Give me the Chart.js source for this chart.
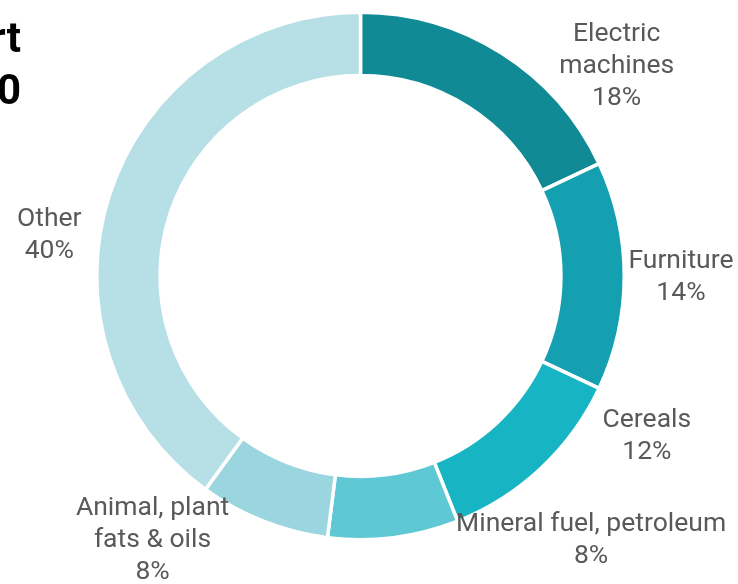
<!DOCTYPE html>
<html>
<head>
<meta charset="utf-8">
<script src="https://cdn.jsdelivr.net/npm/chart.js@4"></script>
<style>
    html, body { margin: 0; padding: 0; background: #fff; overflow: hidden; }
    #wrap { position: relative; width: 738px; height: 584px; }
    #title {
        position: absolute; right: 717px; top: 12px; white-space: nowrap;
        text-align: right; font: bold 42px Roboto, sans-serif; line-height: 52px; color: #000;
    }
</style>
</head>
<body>
<div id="wrap">
    <canvas id="pieChart" width="738" height="584"></canvas>
    <div id="title">Structure of export<br>in 2020</div>
</div>
<script>
const categories = ['Electric\nmachines', 'Furniture', 'Cereals', 'Mineral fuel, petroleum', 'Animal, plant\nfats & oils', 'Other'];
const shares = [18, 14, 12, 8, 8, 40];
const colors = ['#108b96', '#14a0b0', '#17b5c4', '#5ec8d5', '#9bd5df', '#b6dfe6'];

// label placement: angle from top (deg) and distance as share of outer radius
const labelAngle = [50.7, 90.2, 119.3, 138.9, 218.2, 277.4];
const labelDist = [1.255, 1.215, 1.245, 1.33, 1.275, 1.19];

const outerLabels = {
    id: 'outerLabels',
    afterDraw(chart) {
        const ctx = chart.ctx;
        const arcs = chart.getDatasetMeta(0).data;
        ctx.save();
        ctx.font = '26.5px Roboto';
        ctx.fillStyle = '#595959';
        ctx.textAlign = 'center';
        ctx.textBaseline = 'middle';
        arcs.forEach((arc, i) => {
            const a = labelAngle[i] * Math.PI / 180;
            const r = arc.outerRadius * labelDist[i];
            const cx = arc.x + Math.sin(a) * r;
            const cy = arc.y - Math.cos(a) * r;
            const lines = chart.data.labels[i].split('\n');
            lines.push(chart.data.datasets[0].data[i] + '%');
            const lh = 32;
            const top = cy - (lines.length - 1) * lh / 2;
            lines.forEach((t, k) => ctx.fillText(t, cx, top + k * lh));
        });
        ctx.restore();
    }
};

new Chart(document.getElementById('pieChart').getContext('2d'), {
    type: 'doughnut',
    data: {
        labels: categories,
        datasets: [{
            data: shares,
            backgroundColor: colors,
            borderColor: '#ffffff',
            borderWidth: 3.5
        }]
    },
    options: {
        responsive: false,
        animation: false,
        cutout: '76%',
        layout: { padding: { top: 8, bottom: 40, left: 95, right: 112 } },
        plugins: {
            legend: { display: false },
            tooltip: { enabled: false }
        }
    },
    plugins: [outerLabels]
});
</script>
</body>
</html>
